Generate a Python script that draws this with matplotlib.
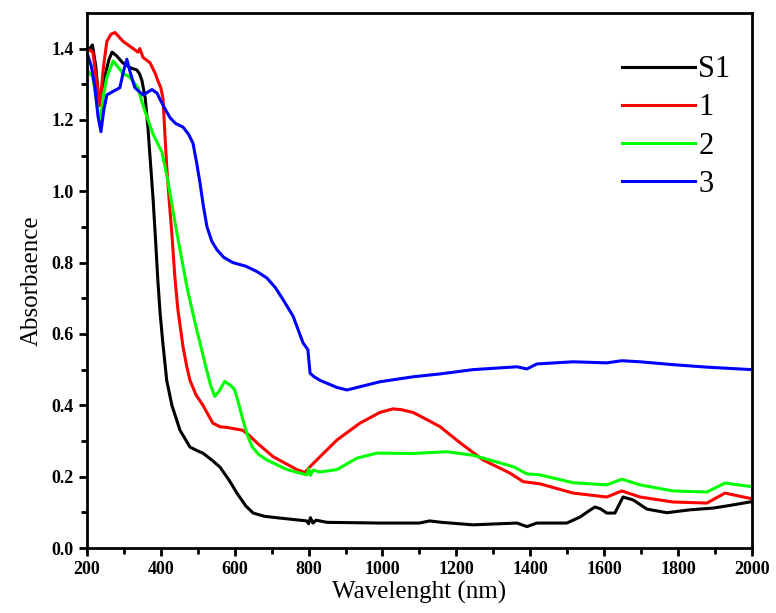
import matplotlib.pyplot as plt

# ---- data --------------------------------------------------------------------
s1_nm = [200, 208, 215, 224, 232, 240, 250, 260, 268, 280, 297, 320, 335, 342,
         349, 358, 365, 372, 379, 386, 392, 398, 405, 416, 430, 452, 479, 500,
         514, 540, 560, 585, 606, 630, 650, 680, 722, 795, 800, 805, 812, 820,
         850, 993, 1100, 1128, 1160, 1245, 1364, 1391, 1418, 1499, 1535, 1560,
         1575, 1590, 1607, 1629, 1651, 1678, 1716, 1770, 1832, 1895, 1932, 2000]
s1_abs = [1.40, 1.40, 1.41, 1.35, 1.26, 1.28, 1.33, 1.37, 1.39, 1.38, 1.36, 1.345,
          1.34, 1.33, 1.31, 1.26, 1.18, 1.08, 0.98, 0.86, 0.75, 0.66, 0.58, 0.47,
          0.40, 0.33, 0.283, 0.272, 0.266, 0.245, 0.227, 0.19, 0.154, 0.118,
          0.098, 0.089, 0.084, 0.076, 0.068, 0.085, 0.070, 0.078, 0.072, 0.070,
          0.070, 0.076, 0.072, 0.065, 0.070, 0.060, 0.070, 0.070, 0.087, 0.105,
          0.115, 0.110, 0.098, 0.098, 0.143, 0.135, 0.109, 0.099, 0.107, 0.112,
          0.118, 0.130]

r1_nm = [200, 216, 225, 235, 245, 254, 265, 276, 298, 325, 338, 343, 352, 371,
         385, 392, 400, 406, 410, 416, 423, 430, 438, 446, 460, 470, 479, 495,
         514, 530, 541, 560, 579, 622, 640, 660, 704, 768, 790, 804, 831, 877,
         939, 993, 1028, 1050, 1083, 1120, 1156, 1210, 1272, 1345, 1381, 1426,
         1516, 1607, 1648, 1697, 1786, 1878, 1927, 2000]
r1_abs = [1.40, 1.39, 1.32, 1.24, 1.35, 1.42, 1.44, 1.445, 1.42, 1.40, 1.39, 1.40,
          1.375, 1.36, 1.33, 1.31, 1.29, 1.26, 1.18, 1.07, 0.97, 0.88, 0.76,
          0.67, 0.565, 0.51, 0.47, 0.43, 0.40, 0.37, 0.35, 0.34, 0.338, 0.33,
          0.315, 0.295, 0.256, 0.22, 0.212, 0.228, 0.256, 0.303, 0.35, 0.38,
          0.39, 0.388, 0.38, 0.36, 0.34, 0.295, 0.247, 0.21, 0.186, 0.18,
          0.154, 0.143, 0.16, 0.143, 0.129, 0.126, 0.154, 0.138]

g2_nm = [200, 216, 226, 235, 245, 254, 271, 298, 316, 338, 352, 379, 403, 419,
         444, 471, 493, 519, 535, 546, 558, 573, 590, 600, 612, 622, 635, 647,
         665, 687, 741, 795, 800, 805, 812, 831, 877, 931, 985, 1083, 1174,
         1245, 1354, 1391, 1426, 1516, 1607, 1648, 1697, 1786, 1878, 1927, 2000]
g2_abs = [1.34, 1.32, 1.25, 1.19, 1.27, 1.32, 1.365, 1.33, 1.32, 1.29, 1.24, 1.16,
          1.11, 1.03, 0.88, 0.73, 0.63, 0.52, 0.455, 0.425, 0.44, 0.467, 0.455,
          0.443, 0.40, 0.36, 0.315, 0.284, 0.262, 0.247, 0.22, 0.205, 0.222,
          0.204, 0.218, 0.213, 0.22, 0.252, 0.266, 0.265, 0.27, 0.26, 0.228,
          0.208, 0.205, 0.183, 0.177, 0.193, 0.177, 0.16, 0.157, 0.182, 0.172]

b3_nm = [200, 212, 222, 230, 238, 246, 254, 271, 289, 300, 308, 318, 330, 352,
         376, 390, 398, 412, 425, 440, 460, 475, 487, 497, 506, 515, 525, 538,
         552, 570, 595, 630, 660, 687, 710, 731, 758, 785, 798, 804, 815, 831,
         877, 904, 993, 1083, 1156, 1245, 1364, 1391, 1418, 1516, 1607, 1648,
         1697, 1786, 1878, 2000]
b3_abs = [1.39, 1.35, 1.29, 1.21, 1.167, 1.23, 1.27, 1.28, 1.29, 1.34, 1.37, 1.33,
          1.29, 1.27, 1.285, 1.275, 1.257, 1.23, 1.206, 1.19, 1.18, 1.16, 1.135,
          1.08, 1.024, 0.96, 0.90, 0.86, 0.836, 0.815, 0.80, 0.79, 0.775, 0.757,
          0.73, 0.696, 0.65, 0.575, 0.556, 0.49, 0.48, 0.47, 0.45, 0.443, 0.466,
          0.48, 0.488, 0.50, 0.508, 0.502, 0.516, 0.522, 0.519, 0.525, 0.522,
          0.514, 0.507, 0.50]

labels = ["S1", "1", "2", "3"]
colors = ["black", "#ff0000", "#00ff00", "#0000ff"]

plt.rcParams["font.family"] = ["Liberation Serif", "DejaVu Serif"]

fig = plt.figure(figsize=(7.76, 6.13), dpi=100)
ax = fig.add_axes([0.112, 0.106, 0.857, 0.873])

series = [(s1_nm, s1_abs), (r1_nm, r1_abs), (g2_nm, g2_abs), (b3_nm, b3_abs)]
for (x, y), lab, c in zip(series, labels, colors):
    ax.plot(x, y, color=c, lw=2.2, label=lab, solid_joinstyle="round")

ax.set_xlim(200, 2000)
ax.set_ylim(0, 1.5)
ax.set_xticks(range(200, 2001, 200))
ax.set_xticks(range(300, 2000, 200), minor=True)
ax.set_yticks([0.0, 0.2, 0.4, 0.6, 0.8, 1.0, 1.2, 1.4])
ax.set_yticks([0.1, 0.3, 0.5, 0.7, 0.9, 1.1, 1.3], minor=True)
ax.yaxis.set_major_formatter(plt.FormatStrFormatter("%.1f"))

ax.tick_params(which="major", direction="out", length=6, width=2,
               labelsize=13, top=False, right=False)
ax.tick_params(which="minor", direction="out", length=4, width=2,
               top=False, right=False)
for lbl in ax.get_xticklabels() + ax.get_yticklabels():
    lbl.set_fontweight("bold")
for sp in ax.spines.values():
    sp.set_linewidth(2)

ax.set_xlabel("Wavelenght (nm)", fontsize=18, labelpad=2)
ax.set_ylabel("Absorbaence", fontsize=18, labelpad=6)

ax.legend(loc="upper right", bbox_to_anchor=(0.995, 0.955), frameon=False,
          fontsize=22, handlelength=2.4, handletextpad=0.1, labelspacing=0.3,
          borderaxespad=0.2)

fig.savefig("out.png", dpi=100)
